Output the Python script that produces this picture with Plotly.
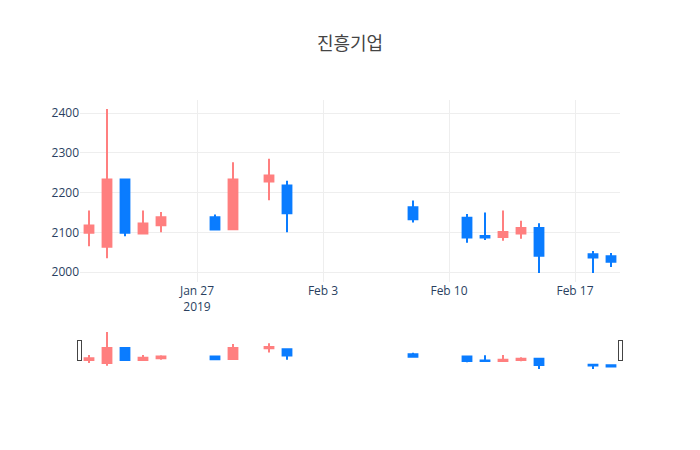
import plotly.graph_objects as go

dates = ["2019-01-21", "2019-01-22", "2019-01-23", "2019-01-24", "2019-01-25",
         "2019-01-28", "2019-01-29", "2019-01-31", "2019-02-01", "2019-02-08",
         "2019-02-11", "2019-02-12", "2019-02-13", "2019-02-14", "2019-02-15",
         "2019-02-18", "2019-02-19"]
opens  = [2099, 2064, 2233, 2097, 2118, 2138, 2108, 2228, 2218, 2163, 2137, 2091, 2088, 2097, 2111, 2045, 2040]
highs  = [2155, 2410, 2233, 2155, 2151, 2145, 2276, 2285, 2230, 2180, 2146, 2150, 2155, 2129, 2123, 2053, 2048]
lows   = [2065, 2035, 2090, 2096, 2100, 2105, 2108, 2181, 2100, 2125, 2074, 2081, 2079, 2084, 1998, 1998, 2013]
closes = [2117, 2233, 2099, 2122, 2138, 2107, 2233, 2243, 2148, 2133, 2087, 2087, 2101, 2111, 2041, 2037, 2026]

up_color = "#FF7F7F"
down_color = "#0A7CFF"

fig = go.Figure(go.Candlestick(
    x=dates, open=opens, high=highs, low=lows, close=closes,
    increasing=dict(line=dict(color=up_color), fillcolor=up_color),
    decreasing=dict(line=dict(color=down_color), fillcolor=down_color),
))

fig.update_layout(
    width=700, height=450,
    title=dict(text="진흥기업", x=0.5, xanchor="center",
               font=dict(family="Noto Sans CJK KR", size=18, color="#444")),
    plot_bgcolor="white", paper_bgcolor="white",
    xaxis=dict(gridcolor="#eee", rangeslider=dict(visible=True)),
    yaxis=dict(gridcolor="#eee"),
    showlegend=False,
)

fig.write_html("out.html")
